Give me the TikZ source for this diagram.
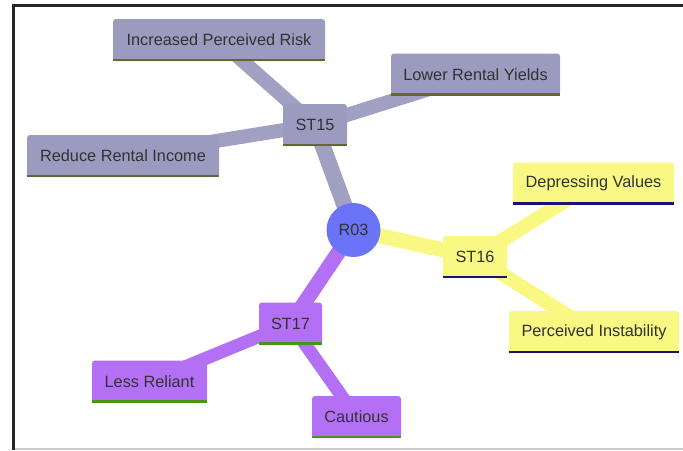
\documentclass[tikz,border=0pt]{standalone}
\usepackage{fontspec}
\setmainfont{Liberation Sans}
\usetikzlibrary{backgrounds}
\definecolor{slatebox}{RGB}{155,155,192}
\definecolor{slateline}{RGB}{102,102,51}
\definecolor{lemonbox}{RGB}{248,248,130}
\definecolor{lemonline}{RGB}{20,20,120}
\definecolor{violetbox}{RGB}{180,112,245}
\definecolor{violetline}{RGB}{70,150,20}
\definecolor{rootblue}{RGB}{107,116,247}
\definecolor{labeltext}{RGB}{50,50,50}
\tikzset{
  topic/.style={rectangle, rounded corners=3pt, inner sep=0pt,
    minimum height=42pt, text=labeltext,
    font=\fontsize{16.3}{19}\selectfont},
  slate/.style={topic, fill=slatebox},
  lemon/.style={topic, fill=lemonbox},
  violet/.style={topic, fill=violetbox},
  rootnode/.style={circle, fill=rootblue, minimum size=54pt, inner sep=0pt,
    text=labeltext, font=\fontsize{16.3}{19}\selectfont},
  link/.style={line width=#1, line cap=butt},
  link/.default=14pt,
  underline/.style={line width=2.5pt, line cap=butt}
}
\begin{document}
\begin{tikzpicture}[x=1pt, y=-1pt]
\useasboundingbox (0,0) rectangle (683,450);

% central topic
\node[rootnode] (r03) at (353.5,230) {R03};

% ST15 branch
\node[slate, minimum width=64pt]  (st15) at (315,125)   {ST15};
\node[slate, minimum width=212pt] (ipr)  at (219,40)    {Increased Perceived Risk};
\node[slate, minimum width=169pt] (lry)  at (475.5,74.5){Lower Rental Yields};
\node[slate, minimum width=192pt] (rri)  at (123,156)   {Reduce Rental Income};

% ST16 branch
\node[lemon, minimum width=64pt]  (st16) at (475,257)   {ST16};
\node[lemon, minimum width=161pt] (dv)   at (593.5,183.5){Depressing Values};
\node[lemon, minimum width=170pt] (pi)   at (594,332)   {Perceived Instability};

% ST17 branch
\node[violet, minimum width=63pt]  (st17) at (290.5,323.5){ST17};
\node[violet, minimum width=115pt] (lr)   at (149.5,381.5){Less Reliant};
\node[violet, minimum width=89pt]  (cau)  at (356.5,417)  {Cautious};

% underlines of the boxes
\foreach \n/\c in {st15/slateline, ipr/slateline, lry/slateline, rri/slateline,
                   st16/lemonline, dv/lemonline, pi/lemonline,
                   st17/violetline, lr/violetline, cau/violetline}
  \draw[underline, \c] ([yshift=1.2pt]\n.south west) -- ([yshift=1.2pt]\n.south east);

\begin{scope}[on background layer]
  \fill[white] (0,0) rectangle (683,450);
  % connectors
  \draw[link=16pt, slatebox!95!white] (r03.center) -- (st15.center);
  \draw[link, slatebox!95!white] (st15.center) -- (ipr.center);
  \draw[link, slatebox!95!white] (st15.center) -- (lry.center);
  \draw[link, slatebox!95!white] (st15.center) -- (rri.center);
  \draw[link=15pt, lemonbox] (r03.center) -- (st16.center);
  \draw[link, lemonbox] (st16.center) -- (dv.center);
  \draw[link, lemonbox] (st16.center) -- (pi.center);
  \draw[link=15pt, violetbox] (r03.center) -- (st17.center);
  \draw[link=13pt, violetbox] (st17.center) -- (lr.center);
  \draw[link=13pt, violetbox] (st17.center) -- (cau.center);
  % frame
  \draw[line width=3pt, black!85] (12,5.5) -- (683,5.5);
  \draw[line width=3pt, black!85] (13.5,4) -- (13.5,450);
  \draw[line width=1.2pt, black!20] (15,449) -- (683,449);
\end{scope}
\end{tikzpicture}
\end{document}
